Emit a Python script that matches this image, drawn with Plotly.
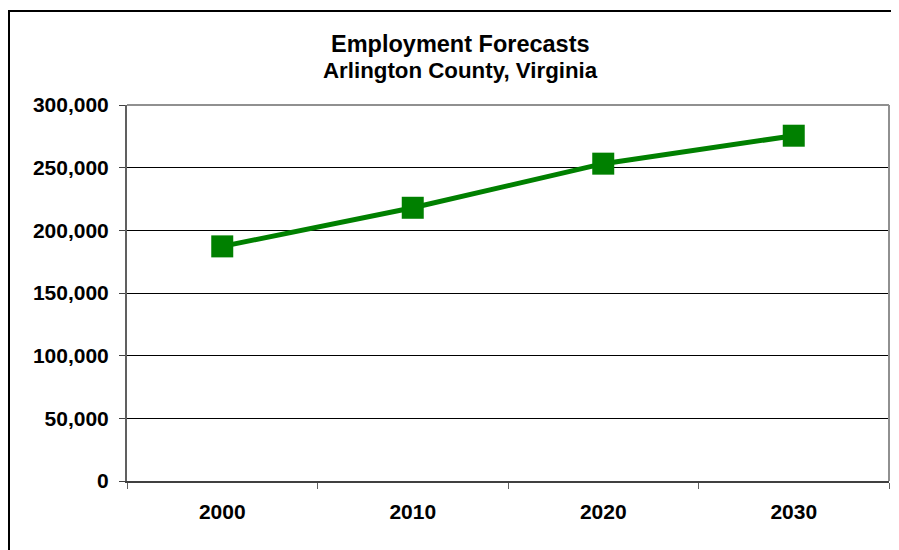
import plotly.graph_objects as go

years = ["2000", "2010", "2020", "2030"]
employment = [187200, 218000, 253200, 275500]
y_ticks = [0, 50000, 100000, 150000, 200000, 250000, 300000]
y_tick_labels = ["0", "50,000", "100,000", "150,000", "200,000", "250,000", "300,000"]

FONT = "Arial, 'Liberation Sans', sans-serif"
OFF = 8  # page body margin
W, H = 899 - OFF, 550 - OFF
L, R, T, B = 127 - OFF, 10, 105 - OFF, 69
# plot area in screen coordinates
SX0, SX1, SY0, SY1 = 127, 889, 105, 481

def px_to_paper_x(px):
    return (px - SX0) / (SX1 - SX0)

def px_to_paper_y(py):
    return (SY1 - py) / (SY1 - SY0)

fig = go.Figure()
fig.add_trace(go.Scatter(
    x=years, y=employment, mode="lines+markers",
    line=dict(color="#008000", width=5),
    marker=dict(symbol="square", size=22, color="#008000"),
    showlegend=False, hoverinfo="x+y",
))

fig.update_layout(
    width=W, height=H,
    margin=dict(l=L, r=R, t=T, b=B),
    paper_bgcolor="white", plot_bgcolor="white",
    font=dict(family=FONT, size=21, color="black"),
    xaxis=dict(
        type="category", range=[-0.5, 3.5],
        tickson="boundaries", ticks="outside", ticklen=6, tickcolor="#606060",
        showgrid=False, showline=True, linecolor="#404040", linewidth=2,
        tickfont=dict(family=FONT, size=21, color="black", weight="bold"),
        ticklabelstandoff=11,
    ),
    yaxis=dict(
        range=[0, 300000], tickvals=y_ticks, ticktext=y_tick_labels,
        ticks="outside", ticklen=6, tickcolor="#404040",
        showgrid=True, gridcolor="black", gridwidth=1,
        showline=True, linecolor="#606060", linewidth=2,
        zeroline=False,
        tickfont=dict(family=FONT, size=21, color="black", weight="bold"),
        ticklabelstandoff=6,
    ),
    shapes=[
        dict(type="line", xref="paper", yref="paper", x0=0, x1=1, y0=1, y1=1,
             line=dict(color="#909090", width=2)),
        dict(type="line", xref="paper", yref="paper", x0=1, x1=1, y0=0, y1=1,
             line=dict(color="#909090", width=2)),
        dict(type="rect", xref="paper", yref="paper",
             x0=px_to_paper_x(9), x1=px_to_paper_x(930),
             y0=px_to_paper_y(580), y1=px_to_paper_y(11),
             line=dict(color="black", width=2), layer="above"),
    ],
    annotations=[
        dict(text="<b>Employment Forecasts</b>", xref="paper", yref="paper",
             x=px_to_paper_x(460), y=px_to_paper_y(44), xanchor="center", yanchor="middle",
             showarrow=False, font=dict(family=FONT, size=23.5, color="black")),
        dict(text="<b>Arlington County, Virginia</b>", xref="paper", yref="paper",
             x=px_to_paper_x(460), y=px_to_paper_y(71), xanchor="center", yanchor="middle",
             showarrow=False, font=dict(family=FONT, size=22.3, color="black")),
    ],
)

fig.write_html("out.html")
